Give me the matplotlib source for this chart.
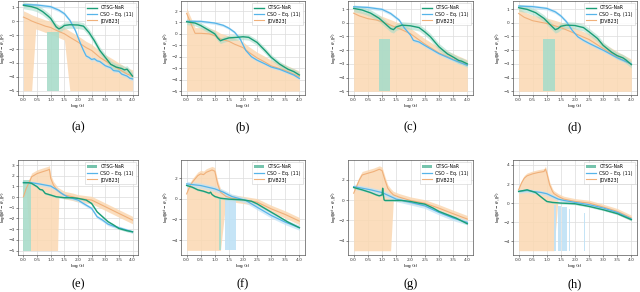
import numpy as np
import matplotlib
matplotlib.use("Agg")
import matplotlib.pyplot as plt
from matplotlib.lines import Line2D
from matplotlib.patches import Patch

# ---------------- data ----------------
panel_labels = ["(a)", "(b)", "(c)", "(d)", "(e)", "(f)", "(g)", "(h)"]
series_names = ["OTSG-NaR", "CSO – Eq. (11)", "[DVB23]"]

# panel (a)
a_g_x = [0, 0.3, 0.5, 0.7, 0.9, 1.0, 1.1, 1.2, 1.3, 1.4, 1.5, 1.7, 2.0, 2.2, 2.4, 2.6, 2.8, 3.0, 3.2, 3.4, 3.5, 3.6, 3.7, 3.8, 3.9, 4.0]
a_g_y = [1.15, 1.05, 0.93, 0.7, 0.38, 0.2, -0.1, -0.4, -0.55, -0.45, -0.3, -0.25, -0.27, -0.35, -0.8, -1.4, -2.1, -2.6, -3.1, -3.3, -3.35, -3.4, -3.5, -3.45, -3.7, -3.95]
a_b_x = [0, 0.5, 1.0, 1.3, 1.5, 1.7, 1.9, 2.1, 2.2, 2.3, 2.4, 2.5, 2.6, 2.7, 2.8, 3.0, 3.2, 3.3, 3.5, 3.6, 3.8, 3.9, 4.0]
a_b_y = [1.2, 1.17, 1.05, 0.8, 0.55, 0.07, -0.65, -1.65, -2.1, -2.5, -2.6, -2.75, -2.7, -2.85, -2.9, -3.2, -3.35, -3.55, -3.6, -3.8, -3.95, -4.1, -4.15]
a_o_x = [0, 0.15, 0.3, 0.45, 0.6, 0.8, 1.0, 1.2, 1.5, 1.7, 2.0, 2.3, 2.5, 2.8, 3.0, 3.3, 3.5, 3.8, 4.0]
a_o_y = [0.3, 0.17, 0.02, -0.1, -0.2, -0.35, -0.45, -0.65, -0.9, -1.15, -1.5, -1.9, -2.1, -2.6, -2.85, -3.2, -3.45, -3.8, -3.95]

# panel (b)
b_g_x = [0, 0.3, 0.5, 0.8, 1.0, 1.1, 1.2, 1.3, 1.5, 1.8, 2.0, 2.2, 2.5, 2.8, 3.0, 3.3, 3.6, 3.8, 4.0]
b_g_y = [1.06, 0.95, 0.73, 0.3, 0.0, -0.35, -0.6, -0.5, -0.35, -0.3, -0.25, -0.3, -0.75, -1.5, -2.05, -2.65, -3.1, -3.3, -3.6]
b_b_x = [0, 0.5, 1.0, 1.3, 1.5, 1.7, 1.9, 2.1, 2.3, 2.5, 2.8, 3.0, 3.3, 3.5, 3.8, 4.0]
b_b_y = [1.1, 1.1, 0.95, 0.75, 0.5, 0.15, -0.45, -1.45, -2.0, -2.3, -2.65, -2.9, -3.1, -3.3, -3.6, -3.9]
b_o_x = [0, 0.1, 0.3, 0.5, 0.8, 1.0, 1.2, 1.5, 1.7, 2.0, 2.2, 2.5, 2.8, 3.0, 3.5, 4.0]
b_o_y = [1.8, 1.2, 0.05, 0.05, 0.0, -0.15, -0.45, -0.65, -0.9, -1.2, -1.6, -2.1, -2.5, -2.8, -3.2, -3.75]

# panel (c)
c_g_x = [0, 0.3, 0.6, 0.9, 1.1, 1.3, 1.4, 1.5, 1.7, 2.0, 2.3, 2.5, 2.7, 3.0, 3.3, 3.5, 3.7, 3.8, 4.0]
c_g_y = [1.05, 0.93, 0.7, 0.32, -0.05, -0.42, -0.5, -0.3, -0.17, -0.22, -0.35, -0.66, -1.02, -1.75, -2.27, -2.5, -2.75, -2.8, -3.0]
c_b_x = [0, 0.5, 1.0, 1.3, 1.6, 1.8, 2.0, 2.1, 2.3, 2.5, 3.0, 3.5, 4.0]
c_b_y = [1.17, 1.12, 0.98, 0.68, 0.2, -0.42, -0.9, -1.28, -1.4, -1.65, -2.25, -2.7, -3.1]
c_o_x = [0, 0.2, 0.5, 0.8, 1.0, 1.3, 1.6, 2.0, 2.5, 3.0, 3.5, 4.0]
c_o_y = [0.7, 0.5, 0.3, 0.2, 0.07, -0.17, -0.42, -0.8, -1.55, -2.2, -2.65, -3.1]

# panel (d)
d_g_x = [0, 0.3, 0.6, 0.9, 1.1, 1.3, 1.4, 1.5, 1.7, 2.0, 2.3, 2.5, 2.8, 3.0, 3.3, 3.5, 3.7, 3.8, 4.0]
d_g_y = [1.1, 0.98, 0.74, 0.32, -0.1, -0.5, -0.42, -0.25, -0.17, -0.2, -0.35, -0.66, -1.15, -1.65, -2.15, -2.4, -2.56, -2.7, -3.05]
d_b_x = [0, 0.5, 1.0, 1.3, 1.5, 1.7, 1.9, 2.1, 2.3, 2.5, 3.0, 3.5, 4.0]
d_b_y = [1.22, 1.18, 1.05, 0.8, 0.5, 0.07, -0.55, -1.02, -1.28, -1.5, -2.0, -2.55, -3.0]
d_o_x = [0, 0.2, 0.5, 1.0, 1.5, 2.0, 2.5, 3.0, 3.5, 4.0]
d_o_y = [0.68, 0.4, 0.15, -0.05, -0.35, -0.78, -1.22, -1.88, -2.5, -3.05]

# panel (e)
e_g_x = [0, 0.2, 0.3, 0.5, 0.6, 0.7, 0.8, 1.0, 1.2, 1.5, 1.8, 2.0, 2.3, 2.5, 2.7, 2.9, 3.1, 3.3, 3.5, 3.8, 4.0]
e_g_y = [1.34, 1.34, 1.28, 0.97, 0.72, 0.66, 0.34, 0.19, 0.03, -0.06, -0.06, -0.12, -0.28, -0.6, -1.38, -1.84, -2.3, -2.6, -2.94, -3.15, -3.25]
e_b_x = [0, 0.3, 0.6, 1.0, 1.2, 1.4, 1.6, 1.8, 2.0, 2.2, 2.5, 2.7, 2.9, 3.1, 3.3, 3.6, 4.0]
e_b_y = [1.37, 1.34, 1.22, 1.03, 0.72, 0.34, 0.03, -0.12, -0.28, -0.6, -1.06, -1.84, -2.15, -2.53, -2.72, -2.94, -3.25]
e_o_x = [0, 0.1, 0.25, 0.3, 0.5, 0.7, 0.9, 0.95, 1.0, 1.1, 1.25, 1.3, 1.5, 1.8, 2.0, 2.5, 3.0, 3.5, 4.0]
e_o_y = [0.03, 0.8, 1.6, 1.9, 2.2, 2.37, 2.53, 2.6, 1.75, 1.12, 0.6, 0.5, 0.19, 0.03, -0.12, -0.28, -0.9, -1.53, -2.15]

# panel (f)
f_g_x = [0, 0.2, 0.4, 0.6, 0.8, 0.85, 0.9, 1.0, 1.2, 1.5, 2.0, 2.3, 2.5, 2.8, 3.0, 3.3, 3.6, 4.0]
f_g_y = [1.3, 1.13, 0.87, 0.74, 0.55, 0.65, 0.42, 0.23, 0.06, -0.03, -0.1, -0.23, -0.48, -0.97, -1.29, -1.77, -2.26, -2.8]
f_b_x = [0, 0.5, 1.0, 1.3, 1.6, 1.9, 2.1, 2.3, 2.5, 2.8, 3.0, 3.5, 4.0]
f_b_y = [1.45, 1.29, 0.97, 0.65, 0.23, 0.0, -0.16, -0.48, -0.81, -1.29, -1.61, -2.26, -2.8]
f_o_x = [0, 0.1, 0.2, 0.3, 0.4, 0.5, 0.6, 0.7, 0.9, 1.0, 1.1, 1.2, 1.4, 1.6, 2.0, 2.5, 3.0, 3.5, 4.0]
f_o_y = [0.48, 1.13, 1.6, 1.94, 2.26, 2.42, 2.35, 2.58, 2.8, 2.68, 1.45, 0.65, 0.23, 0.06, -0.1, -0.32, -0.97, -1.52, -2.16]

# panel (g)
g_g_x = [0, 0.3, 0.6, 0.8, 0.9, 1.0, 1.02, 1.04, 1.07, 1.1, 1.4, 1.7, 2.0, 2.3, 2.5, 2.8, 3.0, 3.3, 3.6, 4.0]
g_g_y = [1.25, 1.02, 0.75, 0.52, 0.43, 0.52, 1.18, 0.6, 0.03, -0.03, -0.03, -0.03, -0.13, -0.3, -0.39, -0.79, -1.11, -1.44, -1.77, -2.33]
g_b_x = [0, 0.3, 0.6, 1.0, 1.3, 1.5, 1.7, 2.0, 2.5, 3.0, 3.5, 4.0]
g_b_y = [1.34, 1.18, 1.02, 0.75, 0.36, 0.1, -0.03, -0.23, -0.56, -1.21, -1.77, -2.2]
g_o_x = [0, 0.1, 0.2, 0.3, 0.5, 0.7, 0.9, 1.0, 1.1, 1.2, 1.3, 1.4, 1.6, 2.0, 2.5, 3.0, 3.5, 4.0]
g_o_y = [0.69, 1.34, 2.0, 2.49, 2.66, 2.82, 3.05, 2.92, 2.0, 1.18, 0.8, 0.52, 0.3, -0.03, -0.3, -0.79, -1.34, -1.87]

# panel (h)
h_g_x = [0, 0.3, 0.6, 0.8, 1.0, 1.2, 1.5, 2.0, 2.5, 3.0, 3.5, 4.0]
h_g_y = [1.22, 1.39, 1.11, 0.63, 0.17, 0.07, 0.0, -0.07, -0.35, -0.7, -1.11, -1.74]
h_b_x = [0, 0.3, 0.5, 0.8, 1.0, 1.2, 1.4, 1.6, 2.0, 2.5, 3.0, 3.5, 4.0]
h_b_y = [1.22, 1.32, 1.22, 1.11, 0.98, 0.7, 0.42, 0.28, 0.07, -0.17, -0.52, -0.98, -1.67]
h_o_x = [0, 0.1, 0.2, 0.3, 0.5, 0.7, 0.9, 0.95, 1.0, 1.1, 1.2, 1.25, 1.4, 1.6, 2.0, 2.5, 3.0, 3.5, 4.0]
h_o_y = [1.39, 2.09, 2.61, 2.86, 3.07, 3.21, 3.31, 3.56, 3.14, 1.92, 1.22, 1.0, 0.7, 0.42, 0.17, 0.0, -0.42, -0.87, -1.57]

# band half-widths (green, blue, orange) per panel
band_widths = [
    (0.25, 0.12, 0.45), (0.25, 0.12, 0.5), (0.25, 0.12, 0.4), (0.25, 0.12, 0.4),
    (0.1, 0.15, 0.35), (0.1, 0.25, 0.35), (0.1, 0.25, 0.35), (0.1, 0.2, 0.3),
]
# x-intervals where the orange band reaches the bottom of the plot
orange_floor = [
    [(0.0, 0.3), (1.7, 4.0)], [(0.0, 4.0)], [(0.0, 4.0)], [(0.0, 4.0)],
    [(0.25, 1.25)], [(0.0, 1.2)], [(0.0, 1.3)], [(0.0, 1.25)],
]
# green drops to the bottom: (x0, x1, top)
green_drops = [
    [(0.85, 1.3, -0.8)], [], [(0.9, 1.28, -1.2)], [(0.88, 1.28, -1.2)],
    [(0.0, 0.27, 1.6)], [(1.15, 1.22, 0.0)], [], [],
]
# blue drops to the bottom: (x0, x1, top)
blue_drops = [
    [], [], [], [],
    [], [(1.37, 1.45, 0.4), (1.47, 1.56, 0.3), (1.58, 1.63, 0.2), (1.66, 1.74, 0.1)],
    [], [(1.27, 1.33, -0.2), (1.38, 1.52, -0.3), (1.54, 1.7, -0.4), (1.78, 1.81, -0.6), (2.33, 2.36, -1.0)],
]
y_limits = [(-5.31, 1.46), (-5.35, 2.88), (-5.27, 1.59), (-5.27, 1.59),
            (-5.42, 3.47), (-5.45, 3.77), (-5.42, 3.97), (-5.45, 4.52)]
y_ticks = [list(range(-5, 2)), list(range(-5, 3)), list(range(-5, 2)), list(range(-5, 2)),
           list(range(-5, 4)), [-4, -2, 0, 2], [-4, -2, 0, 2], [-4, -2, 0, 2, 4]]

panels = [
    (a_g_x, a_g_y, a_b_x, a_b_y, a_o_x, a_o_y),
    (b_g_x, b_g_y, b_b_x, b_b_y, b_o_x, b_o_y),
    (c_g_x, c_g_y, c_b_x, c_b_y, c_o_x, c_o_y),
    (d_g_x, d_g_y, d_b_x, d_b_y, d_o_x, d_o_y),
    (e_g_x, e_g_y, e_b_x, e_b_y, e_o_x, e_o_y),
    (f_g_x, f_g_y, f_b_x, f_b_y, f_o_x, f_o_y),
    (g_g_x, g_g_y, g_b_x, g_b_y, g_o_x, g_o_y),
    (h_g_x, h_g_y, h_b_x, h_b_y, h_o_x, h_o_y),
]

# ---------------- styling ----------------
GREEN = "#1b9e77"
BLUE = "#56b4e9"
ORANGE_LINE = "#f0b07a"
ORANGE_FILL = "#fbd8b2"
BLUE_FILL = "#bfe2f6"
GREEN_FILL = "#a9dcca"
FLOOR = -5.0

fig = plt.figure(figsize=(6.4, 2.92), dpi=100)
W, H = 640.0, 292.0
lefts = [18, 181, 348, 513]
widths = [120, 124, 125, 124]
row_bottoms = [95, 255]
row_heights = [94, 95]

for i, (gx, gy, bx, by, ox, oy) in enumerate(panels):
    r, c = divmod(i, 4)
    ax = fig.add_axes([lefts[c] / W, 1 - row_bottoms[r] / H, widths[c] / W, row_heights[r] / H])
    gw, bw, ow = band_widths[i]
    gx, gy, bx, by, ox, oy = map(np.asarray, (gx, gy, bx, by, ox, oy))

    # orange band (lower edge reaches the floor inside the given intervals)
    o_lo = oy - ow
    for (x0, x1) in orange_floor[i]:
        m = (ox >= x0 - 1e-9) & (ox <= x1 + 1e-9)
        o_lo = np.where(m, FLOOR, o_lo)
    ax.fill_between(ox, o_lo, oy + ow, color=ORANGE_FILL, alpha=0.85, lw=0)
    # blue band
    ax.fill_between(bx, by - bw, by + bw, color=BLUE_FILL, alpha=0.7, lw=0)
    for (x0, x1, top) in blue_drops[i]:
        ax.fill_between([x0, x1], FLOOR, top, color=BLUE_FILL, alpha=0.9, lw=0)
    # green band
    ax.fill_between(gx, gy - gw, gy + gw, color=GREEN_FILL, alpha=0.6, lw=0)
    for (x0, x1, top) in green_drops[i]:
        ax.fill_between([x0, x1], FLOOR, top, color=GREEN_FILL, alpha=0.9, lw=0)

    ax.plot(ox, oy, color=ORANGE_LINE, lw=0.8)
    ax.plot(bx, by, color=BLUE, lw=0.9)
    ax.plot(gx, gy, color=GREEN, lw=1.0)

    ax.set_xlim(-0.2, 4.2)
    ax.set_ylim(*y_limits[i])
    ax.set_xticks(np.arange(0, 4.01, 0.5))
    ax.set_xticklabels([f"{v:.1f}" for v in np.arange(0, 4.01, 0.5)])
    ax.set_yticks(y_ticks[i])
    ax.set_yticklabels([f"{v}".replace("-", "\u2212") for v in y_ticks[i]])
    ax.grid(True, color="#dcdcdc", lw=0.5)
    ax.set_axisbelow(True)
    ax.tick_params(labelsize=3.2, length=1.5, width=0.4, pad=1, colors="#333333")
    for s in ax.spines.values():
        s.set_linewidth(0.5)
        s.set_color("#555555")
    ax.set_xlabel("log (t)", fontsize=3.2, labelpad=1)
    ax.set_ylabel(r"$\log(\|\theta^t - \theta_\star\|^2)$", fontsize=3.0)
    ax.yaxis.set_label_coords(-8.5 / widths[c], 0.5)

    if r == 0:
        h_green = Line2D([], [], color=GREEN, lw=1.0)
    else:
        h_green = Patch(facecolor=GREEN, alpha=0.6, edgecolor="none")
    handles = [h_green, Line2D([], [], color=BLUE, lw=0.9), Line2D([], [], color=ORANGE_LINE, lw=0.8)]
    leg = ax.legend(handles, series_names, loc="upper right", fontsize=3.3, frameon=True,
                    handlelength=2.2, handleheight=0.6, borderpad=0.4, labelspacing=0.3,
                    fancybox=False, edgecolor="#cccccc", framealpha=0.9)
    leg.get_frame().set_linewidth(0.4)

    cx = (lefts[c] + widths[c] / 2) / W
    cy = 1 - (127 if r == 0 else 284) / H
    fig.text(cx, cy, panel_labels[i], ha="center", va="center", fontsize=9,
             family="Liberation Serif")

fig.savefig("out.png", dpi=100)
